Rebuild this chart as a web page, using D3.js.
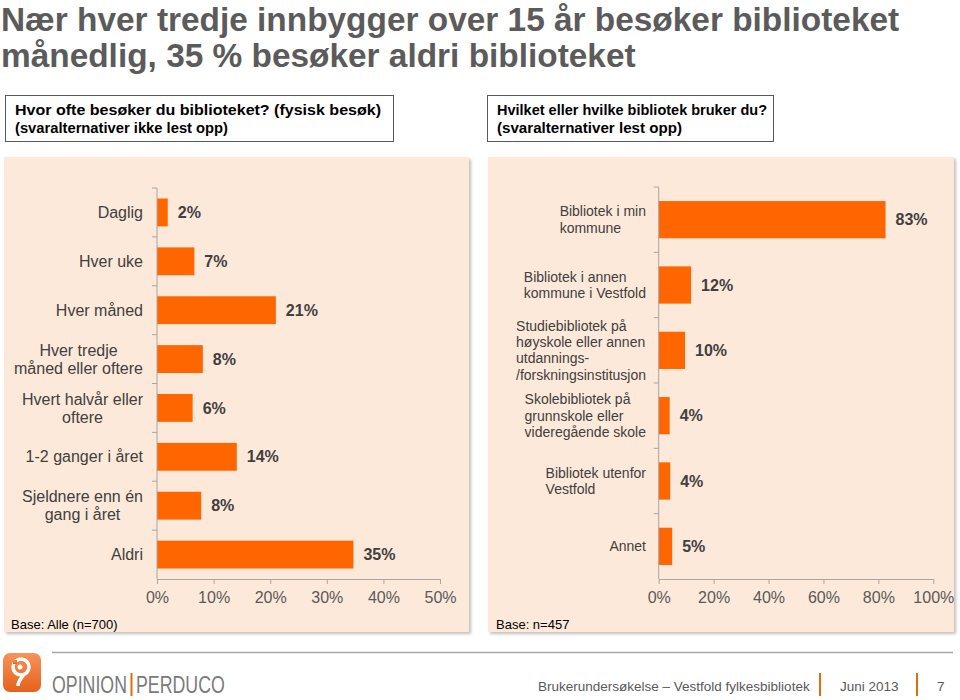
<!DOCTYPE html>
<html><head><meta charset="utf-8">
<script src="https://cdn.jsdelivr.net/npm/d3@7"></script>
<style>
body{margin:0;background:#fff}
svg{display:block}
text{font-family:"Liberation Sans",Arial,Helvetica,sans-serif}
</style>
</head><body>
<svg id="c" width="960" height="700"></svg>
<script>
// ---------- data ----------
const titleLines = ["Nær hver tredje innbygger over 15 år besøker biblioteket",
                    "månedlig, 35 % besøker aldri biblioteket"];
const leftQuestion = ["Hvor ofte besøker du biblioteket? (fysisk besøk)",
                      "(svaralternativer ikke lest opp)"];
const rightQuestion = ["Hvilket eller hvilke bibliotek bruker du?",
                       "(svaralternativer lest opp)"];

const leftCategories = ["Daglig", "Hver uke", "Hver måned", "Hver tredje\nmåned eller oftere",
                        "Hvert halvår eller\noftere", "1-2 ganger i året",
                        "Sjeldnere enn én\ngang i året", "Aldri"];
const leftValues = [0.019, 0.066, 0.21, 0.081, 0.063, 0.141, 0.078, 0.347];
const leftLabels = ["2%", "7%", "21%", "8%", "6%", "14%", "8%", "35%"];
const leftTicks = [0, 0.1, 0.2, 0.3, 0.4, 0.5];
const leftBase = "Base: Alle (n=700)";

const rightCategories = ["Bibliotek i min\nkommune", "Bibliotek i annen\nkommune i Vestfold",
                         "Studiebibliotek på\nhøyskole eller annen\nutdannings-\n/forskningsinstitusjon",
                         "Skolebibliotek på\ngrunnskole eller\nvideregående skole",
                         "Bibliotek utenfor\nVestfold", "Annet"];
const rightValues = [0.826, 0.118, 0.096, 0.040, 0.042, 0.049];
const rightLabels = ["83%", "12%", "10%", "4%", "4%", "5%"];
const rightTicks = [0, 0.2, 0.4, 0.6, 0.8, 1.0];
const rightBase = "Base: n=457";

const footerText = ["Brukerundersøkelse – Vestfold fylkesbibliotek", "Juni 2013", "7"];
const brand = ["OPINION", "PERDUCO"];

// ---------- drawing ----------
const svg = d3.select("#c");
const ORANGE = "#ff6600";
const AXIS = "#a6a6a6";
const defs = svg.append("defs");
const f = defs.append("filter").attr("id", "sh").attr("x", "-5%").attr("y", "-5%").attr("width", "115%").attr("height", "115%");
f.append("feDropShadow").attr("dx", 2).attr("dy", 2).attr("stdDeviation", 1.5)
  .attr("flood-color", "#000").attr("flood-opacity", 0.25);
const lg = defs.append("linearGradient").attr("id", "logoG").attr("x1", 0).attr("y1", 0).attr("x2", 0).attr("y2", 1);
lg.append("stop").attr("offset", "0%").attr("stop-color", "#f7935a");
lg.append("stop").attr("offset", "100%").attr("stop-color", "#e5611c");

svg.append("rect").attr("width", 960).attr("height", 700).attr("fill", "#fff");

// title
svg.selectAll(".title").data(titleLines).join("text")
  .attr("x", 1).attr("y", (d, i) => 31 + i * 36)
  .attr("font-size", 33.4).attr("font-weight", "bold").attr("fill", "#5b5b5b")
  .text(d => d);

// question boxes
function qbox(x, w, lines, widths) {
  svg.append("rect").attr("x", x + 0.5).attr("y", 95.5).attr("width", w).attr("height", 46)
    .attr("fill", "#fff").attr("stroke", "#595959").attr("stroke-width", 1);
  svg.append("g").selectAll("text").data(lines).join("text")
    .attr("x", x + 10).attr("y", (d, i) => 115 + i * 17.5)
    .attr("font-size", 15).attr("font-weight", "bold").attr("fill", "#000")
    .attr("textLength", (d, i) => widths[i]).attr("lengthAdjust", "spacingAndGlyphs")
    .text(d => d);
}
qbox(5, 388, leftQuestion, [366, 213]);
qbox(487, 286, rightQuestion, [270, 185]);

// panels
svg.append("rect").attr("x", 4).attr("y", 157).attr("width", 465).attr("height", 475)
  .attr("fill", "#fde9d9").attr("filter", "url(#sh)");
svg.append("rect").attr("x", 488).attr("y", 157).attr("width", 466).attr("height", 475)
  .attr("fill", "#fde9d9").attr("filter", "url(#sh)");

function drawChart(o) {
  const g = svg.append("g");
  const x = d3.scaleLinear().domain([0, o.ticks[o.ticks.length - 1]]).range(o.xr);
  const y = d3.scaleBand().domain(d3.range(o.cats.length)).range(o.yr)
    .paddingInner(0.43).paddingOuter(0.215);

  // bars
  g.selectAll("rect.bar").data(o.vals).join("rect").attr("class", "bar")
    .attr("x", x(0)).attr("y", (d, i) => y(i))
    .attr("width", d => x(d) - x(0)).attr("height", y.bandwidth())
    .attr("fill", ORANGE);

  // value labels
  g.selectAll("text.val").data(o.vals).join("text").attr("class", "val")
    .attr("x", d => x(d) + 10).attr("y", (d, i) => y(i) + y.bandwidth() / 2).attr("dy", "0.35em")
    .attr("font-size", 16).attr("font-weight", "bold").attr("fill", "#404040")
    .text((d, i) => o.labels[i]);

  // x axis
  const ax = g.append("g").attr("transform", `translate(0,${o.yr[1]})`)
    .call(d3.axisBottom(x).tickValues(o.ticks).tickSize(5).tickSizeOuter(0).tickPadding(8)
      .tickFormat(d3.format(".0%")));
  ax.select(".domain").attr("stroke", AXIS);
  ax.selectAll(".tick line").attr("stroke", AXIS);
  ax.selectAll(".tick text").attr("font-size", 16).attr("fill", "#595959");

  // y axis line and boundary ticks
  g.append("line").attr("x1", x(0)).attr("x2", x(0)).attr("y1", o.yr[0]).attr("y2", o.yr[1])
    .attr("stroke", AXIS);
  g.selectAll("line.bt").data(d3.range(o.cats.length)).join("line").attr("class", "bt")
    .attr("x1", x(0) - 5).attr("x2", x(0))
    .attr("y1", i => o.yr[0] + i * y.step()).attr("y2", i => o.yr[0] + i * y.step())
    .attr("stroke", AXIS);

  // category labels
  o.cats.forEach((c, i) => {
    const lines = c.split("\n");
    const cy = y(i) + y.bandwidth() / 2;
    const tg = g.append("g");
    const ts = tg.selectAll("text").data(lines).join("text")
      .attr("y", (d, j) => cy + (j - (lines.length - 1) / 2) * o.lh).attr("dy", "0.35em")
      .attr("font-size", o.fs).attr("fill", "#404040").text(d => d);
    let maxW = 0;
    ts.each(function () { maxW = Math.max(maxW, this.getComputedTextLength()); });
    if (o.align === "center") {
      ts.attr("text-anchor", "middle").attr("x", o.labelRight - maxW / 2);
    } else {
      ts.attr("text-anchor", "start").attr("x", o.labelRight - maxW);
    }
  });

  // base
  g.append("text").attr("x", o.baseX).attr("y", 629).attr("font-size", 13).attr("fill", "#000")
    .text(o.base);
}

drawChart({cats: leftCategories, vals: leftValues, labels: leftLabels, ticks: leftTicks,
  xr: [157, 440], yr: [188, 579], labelRight: 143, align: "center", fs: 16, lh: 18,
  base: leftBase, baseX: 11});
drawChart({cats: rightCategories, vals: rightValues, labels: rightLabels, ticks: rightTicks,
  xr: [658.7, 933.3], yr: [187, 579], labelRight: 646, align: "left", fs: 14, lh: 16.3,
  base: rightBase, baseX: 496});

// footer
svg.append("line").attr("x1", 52).attr("x2", 953).attr("y1", 652.5).attr("y2", 652.5)
  .attr("stroke", "#a6a6a6").attr("stroke-width", 1.5);
svg.append("rect").attr("x", 3).attr("y", 653).attr("width", 38).attr("height", 39).attr("rx", 7)
  .attr("fill", "url(#logoG)");
svg.append("circle").attr("cx", 21).attr("cy", 667).attr("r", 8).attr("fill", "none")
  .attr("stroke", "#fff").attr("stroke-width", 3.5);
svg.append("circle").attr("cx", 20).attr("cy", 667).attr("r", 2.5).attr("fill", "#fff");
svg.append("path").attr("d", "M24,674 C22,678 18,680 18,686").attr("fill", "none")
  .attr("stroke", "#fff").attr("stroke-width", 3.5);
svg.append("rect").attr("x", 13).attr("y", 660).attr("width", 4).attr("height", 4).attr("fill", "url(#logoG)");

svg.append("text").attr("transform", "translate(52,693) scale(0.74,1)").attr("font-size", 24)
  .attr("fill", "#7a7a7a").text(brand[0]);
svg.append("line").attr("x1", 131.5).attr("x2", 131.5).attr("y1", 673).attr("y2", 696)
  .attr("stroke", "#e46c0a").attr("stroke-width", 2);
svg.append("text").attr("transform", "translate(136,693) scale(0.74,1)").attr("font-size", 24)
  .attr("fill", "#7a7a7a").text(brand[1]);

const fx = [538, 840, 937];
svg.selectAll("text.ft").data(footerText).join("text").attr("class", "ft")
  .attr("x", (d, i) => fx[i]).attr("y", 691).attr("font-size", 13.5).attr("fill", "#595959")
  .text(d => d);
[820, 917].forEach(xx => svg.append("line").attr("x1", xx).attr("x2", xx).attr("y1", 673).attr("y2", 696)
  .attr("stroke", "#e46c0a").attr("stroke-width", 2));
</script>
</body></html>
